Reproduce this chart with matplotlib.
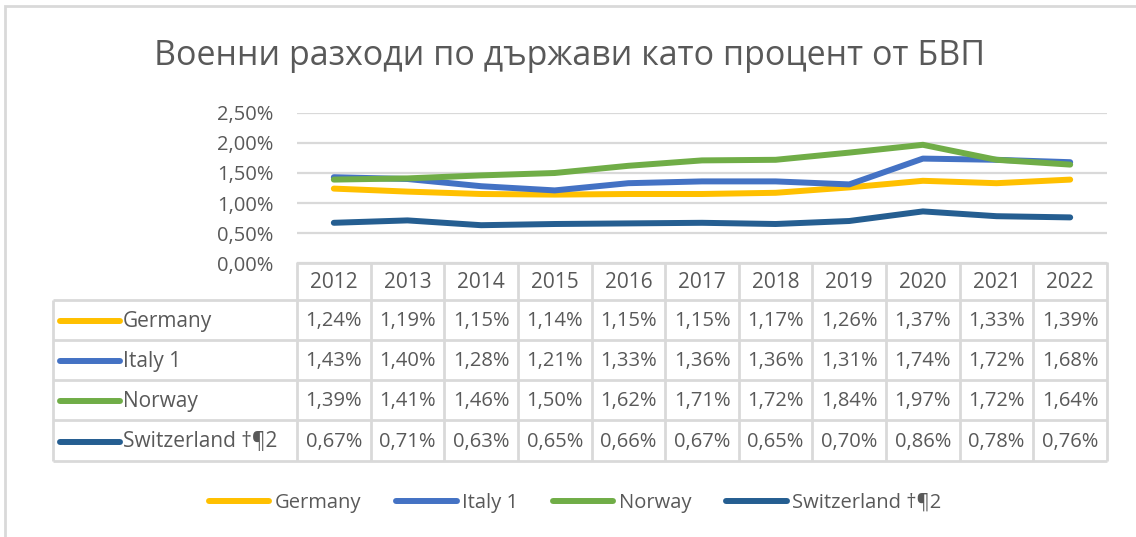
import matplotlib
matplotlib.use('Agg')
import matplotlib.pyplot as plt
from matplotlib.lines import Line2D
from matplotlib.patches import Rectangle

# Data
years = ['2012', '2013', '2014', '2015', '2016', '2017', '2018', '2019', '2020', '2021', '2022']
countries = ['Germany', 'Italy 1', 'Norway', 'Switzerland †¶2']
germany = [1.24, 1.19, 1.15, 1.14, 1.15, 1.15, 1.17, 1.26, 1.37, 1.33, 1.39]
italy = [1.43, 1.40, 1.28, 1.21, 1.33, 1.36, 1.36, 1.31, 1.74, 1.72, 1.68]
norway = [1.39, 1.41, 1.46, 1.50, 1.62, 1.71, 1.72, 1.84, 1.97, 1.72, 1.64]
switzerland = [0.67, 0.71, 0.63, 0.65, 0.66, 0.67, 0.65, 0.70, 0.86, 0.78, 0.76]
y_ticks = [0.0, 0.5, 1.0, 1.5, 2.0, 2.5]

series = [germany, italy, norway, switzerland]
colors = ['#FFC000', '#4472C4', '#70AD47', '#255E91']

FONT = ['Open Sans', 'DejaVu Sans']
TXT = '#595959'
GRID = '#D9D9D9'

W, H = 1136, 537
fig = plt.figure(figsize=(W / 100, H / 100), dpi=100)


def box(x0, y0, x1, y1):
    return [x0 / W, 1 - y1 / H, (x1 - x0) / W, (y1 - y0) / H]


def pct(v):
    return f'{v:.2f}%'.replace('.', ',')


# chart border
fig.patches.append(Rectangle((5 / W, -0.1), 1.2, 1 - 6 / H + 0.1, transform=fig.transFigure,
                             fill=False, edgecolor=GRID, lw=2))

fig.text(570 / W, 1 - 56 / H, 'Военни разходи по държави като процент от БВП',
         ha='center', va='center', fontsize=24.5, color=TXT, family=FONT)

# Plot area
ax = fig.add_axes(box(297, 113, 1107, 263))
x = list(range(len(years)))
for vals, c in zip(series, colors):
    ax.plot(x, vals, color=c, lw=4.3, solid_capstyle='round', solid_joinstyle='round')
ax.set_xlim(-0.5, len(years) - 0.5)
ax.set_ylim(0, 2.5)
ax.set_yticks(y_ticks)
ax.set_yticklabels([pct(v) for v in y_ticks], family=FONT, fontsize=14.5, color=TXT)
ax.tick_params(axis='y', length=0, pad=17)
ax.set_xticks([])
for s in ax.spines.values():
    s.set_visible(False)
ax.grid(axis='y', color=GRID, lw=1.6)
ax.set_axisbelow(True)
ax.patch.set_alpha(0)

# Data table
col_w = (1107 - 297) / len(years)
left = -0.5 - (297 - 53) / col_w
tab = fig.add_axes(box(53, 262, 1107, 462))
tab.set_xlim(left, len(years) - 0.5)
rows = [262, 300, 340, 380, 420, 461]
tab.set_ylim(462, 262)
tab.axis('off')
kw = dict(color=GRID, lw=2, solid_capstyle='butt', clip_on=False)
for i in range(len(years) + 1):
    tab.plot([i - 0.5, i - 0.5], [rows[0], rows[-1]], **kw)
tab.plot([left, left], [rows[1], rows[-1]], **kw)
tab.plot([-0.5, len(years) - 0.5], [rows[0] + 1, rows[0] + 1], **kw)
for r in rows[1:]:
    tab.plot([left, len(years) - 0.5], [r, r], **kw)
for i, yr in enumerate(years):
    tab.text(i, (rows[0] + rows[1]) / 2 + 1, yr, ha='center', va='center',
             fontsize=15, color=TXT, family=FONT)
for k, (name, vals, c) in enumerate(zip(countries, series, colors)):
    yc = (rows[k + 1] + rows[k + 2]) / 2 + 1
    tab.plot([left + 7 / col_w, left + 67 / col_w], [yc, yc], color=c, lw=4.3,
             solid_capstyle='round', clip_on=False)
    tab.text(left + 70 / col_w, yc, name, ha='left', va='center',
             fontsize=15, color=TXT, family=FONT)
    for i, v in enumerate(vals):
        tab.text(i, yc, pct(v), ha='center', va='center',
                 fontsize=14.5, color=TXT, family=FONT)

# Legend
handles = [Line2D([], [], color=c, lw=4.3, solid_capstyle='round') for c in colors]
fig.legend(handles, countries, loc='center', bbox_to_anchor=(575 / W, 1 - 503 / H), ncol=4,
           frameon=False, handlelength=3.0, handletextpad=0.25, columnspacing=1.75,
           prop={'family': FONT, 'size': 14.5}, labelcolor=TXT)

fig.savefig('out.png', dpi=100)
